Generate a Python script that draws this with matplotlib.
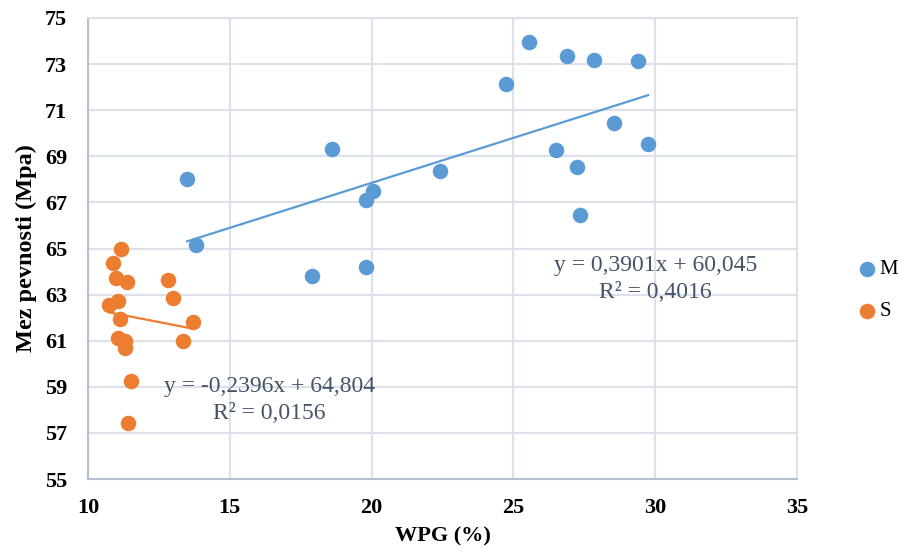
import numpy as np
import matplotlib.pyplot as plt

# Datos
m_wpg = [13.5, 13.8, 17.9, 18.6, 19.8, 20.05, 19.8, 22.4, 24.75, 25.55,
         26.9, 27.85, 29.4, 28.55, 26.5, 27.25, 29.75, 27.35]
m_mez = [68.0, 65.15, 63.8, 69.3, 67.1, 67.5, 64.2, 68.38, 72.15, 73.95,
         73.33, 73.18, 73.15, 70.45, 69.28, 68.52, 69.52, 66.45]

s_wpg = [11.17, 10.89, 10.98, 11.39, 12.81, 13.01, 11.05, 10.73, 11.14, 13.69,
         11.07, 11.3, 11.3, 13.36, 11.51, 11.42]
s_mez = [64.96, 64.39, 63.7, 63.54, 63.63, 62.87, 62.74, 62.56, 61.93, 61.8,
         61.13, 60.99, 60.67, 60.97, 59.26, 57.44]

# Coeficientes de las líneas de tendencia (del texto del gráfico)
m_coef = (0.3901, 60.045)
s_coef = (-0.2396, 64.804)
m_eq = ["y = 0,3901x + 60,045", "R² = 0,4016"]
s_eq = ["y = -0,2396x + 64,804", "R² = 0,0156"]

azul = '#5B9BD5'
naranja = '#ED7D31'
grid_col = '#DDE2EA'
texto_eq = '#44546A'

plt.rcParams['font.family'] = ['Liberation Serif', 'DejaVu Serif']

fig = plt.figure(figsize=(9.05, 5.59), dpi=100)
ax = fig.add_axes([0.0972, 0.1431, 0.7834, 0.8247])

ax.scatter(m_wpg, m_mez, s=125, color=azul, label='M', zorder=3, linewidths=0)
ax.scatter(s_wpg, s_mez, s=125, color=naranja, label='S', zorder=3, linewidths=0)

# Líneas de tendencia
xm = np.array([min(m_wpg), max(m_wpg)])
ax.plot(xm, m_coef[0] * xm + m_coef[1], color=azul, lw=1.6, zorder=2)
xs = np.array([min(s_wpg), max(s_wpg)])
ax.plot(xs, s_coef[0] * xs + s_coef[1], color=naranja, lw=1.6, zorder=2)

ax.text(30.0, 64.28, m_eq[0], ha='center', va='center', fontsize=17, color=texto_eq)
ax.text(30.0, 63.1, m_eq[1], ha='center', va='center', fontsize=17, color=texto_eq)
ax.text(16.4, 59.0, s_eq[0], ha='center', va='center', fontsize=17, color=texto_eq)
ax.text(16.4, 57.86, s_eq[1], ha='center', va='center', fontsize=17, color=texto_eq)

ax.set_xlim(10, 35)
ax.set_ylim(55, 75)
ax.set_xticks(range(10, 36, 5))
ax.set_yticks(range(55, 76, 2))
ax.grid(True, color=grid_col, lw=1.5, zorder=0)
ax.set_axisbelow(True)
for lado in ['top', 'right']:
    ax.spines[lado].set_color(grid_col)
    ax.spines[lado].set_linewidth(1.5)
for lado in ['left', 'bottom']:
    ax.spines[lado].set_color('#B4BFD0')
    ax.spines[lado].set_linewidth(1.5)
ax.tick_params(length=0, labelsize=16)
ax.tick_params(axis='x', pad=14)
ax.tick_params(axis='y', pad=15)
for t in ax.get_xticklabels() + ax.get_yticklabels():
    t.set_fontweight('bold')

ax.set_xlabel('WPG (%)', fontsize=16, fontweight='bold', labelpad=6)
ax.set_ylabel('Mez pevnosti (Mpa)', fontsize=17.5, fontweight='bold', labelpad=6)

ax.legend(loc='center left', bbox_to_anchor=(1.087, 0.409), frameon=False,
          fontsize=15, handlelength=0.8, handletextpad=0.2, labelspacing=1.1,
          borderpad=0, borderaxespad=0)

fig.savefig('out.png', dpi=100)
